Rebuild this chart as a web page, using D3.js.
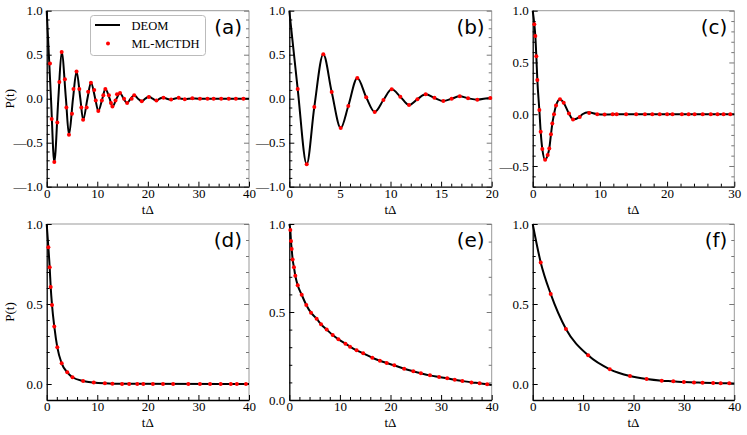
<!DOCTYPE html>
<html>
<head>
<meta charset="utf-8">
<script src="https://cdn.jsdelivr.net/npm/d3@7"></script>
<style>
  body { margin: 0; background: #fff; }
  svg { display: block; }
</style>
</head>
<body>
<script>
// ---- data ----
// (a)
const aLineT = [0, 0.85, 1.5, 2.3, 2.96, 3.8, 4.4, 5.2, 5.9, 6.65, 7.2, 8.05, 8.75, 9.6, 10.2, 11.0, 11.6, 12.45, 13.0, 13.8, 14.5, 15.2, 15.9, 16.6, 17.3, 18.05, 18.8, 19.5, 20.2, 20.95, 21.7, 22.35, 23.0, 23.75, 24.5, 25.2, 25.9, 26.6, 27.3, 28.0, 28.8, 30, 40];
const aLineP = [1.0, 0, -0.72, 0, 0.53, 0, -0.41, 0, 0.31, 0, -0.24, 0, 0.18, 0, -0.14, 0, 0.11, 0, -0.09, 0, 0.065, 0, -0.05, 0, 0.04, 0, -0.03, 0, 0.025, 0, -0.02, 0, 0.015, 0, -0.01, 0, 0.008, 0, -0.005, 0, 0.003, 0, 0];
const aDotT = [0.65, 0.99, 1.5, 2.1, 2.5, 2.96, 3.6, 3.9, 4.4, 5.0, 5.3, 5.9, 6.45, 6.85, 7.2, 7.9, 8.2, 8.75, 9.4, 9.7, 10.2, 10.9, 11.2, 11.6, 12.3, 12.7, 13.0, 13.6, 13.9, 14.5, 15.3, 15.9, 16.8, 17.3, 18.8, 20.2, 21.7, 23.1, 24.6, 26.1, 27.3, 28.8, 30.3, 31.8, 33.0, 34.5, 36.0, 37.4, 38.9];
const aDotP = [0.40, -0.23, -0.72, -0.27, 0.19, 0.53, 0.22, -0.10, -0.41, -0.17, 0.11, 0.31, 0.11, -0.10, -0.24, -0.10, 0.08, 0.18, 0.10, -0.02, -0.14, -0.02, 0.04, 0.11, 0.04, -0.05, -0.09, -0.02, 0.05, 0.065, 0, -0.05, 0, 0.04, -0.03, 0.02, -0.02, 0.01, -0.01, 0.01, -0.005, 0.005, 0, 0, 0, 0, 0, 0, 0];

// (b)
const bLineT = [0, 0.83, 1.72, 2.47, 3.36, 4.19, 5.08, 5.83, 6.72, 7.6, 8.44, 9.3, 10.12, 10.97, 11.83, 12.66, 13.48, 14.34, 15.22, 16.04, 16.84, 17.66, 18.58, 19.86, 20];
const bLineP = [1.0, 0.11, -0.745, -0.095, 0.505, 0.076, -0.333, -0.083, 0.235, 0.016, -0.151, -0.015, 0.107, 0.023, -0.072, -0.005, 0.05, 0.01, -0.026, 0, 0.027, 0.005, -0.011, 0.008, 0.008];
const bDotT = [0.83, 1.72, 2.47, 3.36, 4.19, 5.08, 5.83, 6.72, 7.6, 8.44, 9.3, 10.12, 10.97, 11.83, 12.66, 13.48, 14.34, 15.22, 16.04, 16.84, 17.66, 18.58, 19.86];
const bDotP = [0.11, -0.745, -0.095, 0.505, 0.076, -0.333, -0.083, 0.235, 0.016, -0.151, -0.015, 0.107, 0.023, -0.072, -0.005, 0.05, 0.01, -0.026, 0, 0.027, 0.005, -0.011, 0.008];

// (c)
const cLineT = [0, 0.24, 0.39, 0.54, 0.69, 0.99, 1.19, 1.43, 1.85, 2.23, 2.47, 2.72, 2.92, 3.17, 3.47, 4.06, 4.61, 5.4, 6.0, 7.0, 7.4, 8.3, 9.6, 10.7, 12, 30];
const cLineP = [1.0, 0.868, 0.755, 0.56, 0.33, 0.04, -0.17, -0.335, -0.44, -0.394, -0.33, -0.194, -0.09, 0, 0.084, 0.145, 0.11, 0.006, -0.05, -0.026, 0, 0.018, 0, -0.003, 0, 0];
const cDotT = [0.24, 0.39, 0.54, 0.69, 0.99, 1.19, 1.43, 1.85, 2.23, 2.47, 2.72, 2.92, 3.17, 3.47, 4.06, 4.61, 5.4, 6.0, 7.0, 8.4, 9.6, 10.7, 11.9, 12.5, 13.9, 15.4, 16.7, 17.8, 18.9, 20.0, 20.8, 22.2, 23.2, 24.1, 25.3, 26.5, 27.5, 28.4, 29.4];
const cDotP = [0.868, 0.755, 0.56, 0.33, 0.04, -0.17, -0.335, -0.44, -0.394, -0.33, -0.194, -0.09, 0, 0.084, 0.145, 0.11, 0.006, -0.05, -0.026, 0.013, 0, -0.003, 0, 0, 0, 0, 0, 0, 0, 0, 0, 0, 0, 0, 0, 0, 0, 0, 0];

// (d)
const dLineT = [0, 0.33, 0.59, 0.79, 1.05, 1.5, 2.1, 2.96, 4.07, 5.1, 7.2, 9.3, 11.5, 13.0, 16, 40];
const dLineP = [1.0, 0.854, 0.729, 0.606, 0.494, 0.36, 0.229, 0.129, 0.073, 0.042, 0.019, 0.009, 0.004, 0.002, 0.001, 0];
const dDotT = [0.33, 0.59, 0.79, 1.05, 1.5, 2.1, 2.96, 4.07, 5.1, 7.2, 9.3, 11.5, 13.0, 14.9, 16.3, 17.9, 19.1, 21.0, 23.0, 25.0, 28.0, 30.3, 32.3, 34.4, 36.4, 37.6, 39.4];
const dDotP = [0.854, 0.729, 0.606, 0.494, 0.36, 0.229, 0.129, 0.073, 0.042, 0.019, 0.009, 0.004, 0.002, 0, 0, 0, 0, 0, 0, 0, 0, 0, 0, 0, 0, 0, 0];

// (e)
const eLineT = [0, 0.2, 0.33, 0.47, 0.66, 0.92, 1.19, 1.66, 2.45, 3.36, 4.29, 5.4, 6.27, 7.39, 8.58, 9.7, 11.1, 12.0, 13.3, 14.6, 16.4, 17.9, 19.25, 20.75, 22.7, 24.5, 26.0, 27.8, 29.6, 31.2, 32.7, 34.2, 36.0, 37.6, 39.1, 40];
const eLineP = [1.0, 0.966, 0.903, 0.858, 0.799, 0.754, 0.706, 0.652, 0.598, 0.54, 0.496, 0.462, 0.43, 0.4, 0.369, 0.345, 0.32, 0.303, 0.282, 0.265, 0.24, 0.223, 0.21, 0.197, 0.178, 0.163, 0.152, 0.14, 0.131, 0.123, 0.115, 0.108, 0.1, 0.095, 0.089, 0.085];
const eDotT = eLineT.slice(1, -1);
const eDotP = eLineP.slice(1, -1);

// (f)
const fLineT = [0, 1.59, 3.57, 6.6, 11.0, 15.3, 19.3, 22.6, 25.6, 27.9, 30.0, 32.0, 33.7, 35.8, 37.3, 39.0, 40];
const fLineP = [1.0, 0.76, 0.563, 0.344, 0.179, 0.092, 0.05, 0.031, 0.021, 0.017, 0.012, 0.01, 0.008, 0.006, 0.005, 0.004, 0.003];
const fDotT = fLineT.slice(1, -1);
const fDotP = fLineP.slice(1, -1);

const labels = ["(a)", "(b)", "(c)", "(d)", "(e)", "(f)"];
const xDomains = [[0, 40], [0, 20], [0, 30], [0, 40], [0, 40], [0, 40]];
const yDomains = [[-1, 1], [-1, 1], [-0.7, 1], [-0.1, 1], [0, 1], [-0.1, 1]];
const xMajor = [10, 5, 10, 10, 10, 10];
const xMinor = [2, 1, 2, 2, 2, 2];

const legendNames = ["DEOM", "ML-MCTDH"];

// ---- layout ----
const W = 747, H = 435;
const cols = [[46.7, 249], [289.3, 491.7], [532.7, 734.3]];
const rows = [[10.7, 186.7], [224, 400]];

const svg = d3.select("body").append("svg")
  .attr("width", W)
  .attr("height", H);

const panels = [
  {lt: aLineT, lp: aLineP, dt: aDotT, dp: aDotP},
  {lt: bLineT, lp: bLineP, dt: bDotT, dp: bDotP},
  {lt: cLineT, lp: cLineP, dt: cDotT, dp: cDotP},
  {lt: dLineT, lp: dLineP, dt: dDotT, dp: dDotP},
  {lt: eLineT, lp: eLineP, dt: eDotT, dp: eDotP},
  {lt: fLineT, lp: fLineP, dt: fDotT, dp: fDotP}
];

// long dash as minus, like the original plot
const fmt = d => (d < 0 ? "\u2014" : "") + Math.abs(d).toFixed(1);
const serif = "'Liberation Serif', 'Times New Roman', serif";

panels.forEach((p, i) => {
  const [x0, x1] = cols[i % 3];
  const [y0, y1] = rows[Math.floor(i / 3)];
  const x = d3.scaleLinear().domain(xDomains[i]).range([x0, x1]);
  const y = d3.scaleLinear().domain(yDomains[i]).range([y1, y0]);
  const g = svg.append("g");

  const xd = xDomains[i], yd = yDomains[i];
  const xMaj = d3.range(xd[0], xd[1] + 1e-9, xMajor[i]);
  const xMin = d3.range(xd[0], xd[1] + 1e-9, xMinor[i]).filter(v => !xMaj.includes(v));
  const yMaj = d3.range(Math.ceil(yd[0] / 0.5) * 0.5, yd[1] + 1e-9, 0.5).map(v => +v.toFixed(2));
  const yMin = d3.range(Math.ceil(yd[0] * 10 - 1e-9) / 10, yd[1] + 1e-9, 0.1)
    .map(v => +v.toFixed(2)).filter(v => !yMaj.includes(v));

  // frame top / right (grey)
  g.append("line").attr("x1", x0).attr("x2", x1).attr("y1", y0).attr("y2", y0)
    .attr("stroke", "#999").attr("stroke-width", 1);
  g.append("line").attr("x1", x1).attr("x2", x1).attr("y1", y0).attr("y2", y1)
    .attr("stroke", "#999").attr("stroke-width", 1);

  // right ticks
  g.append("g").attr("transform", `translate(${x1},0)`)
    .call(d3.axisRight(y).tickValues(yMaj).tickSize(-5).tickFormat(""))
    .call(a => a.select(".domain").remove())
    .call(a => a.selectAll("line").attr("stroke", "#777"));
  g.append("g").attr("transform", `translate(${x1},0)`)
    .call(d3.axisRight(y).tickValues(yMin).tickSize(-3).tickFormat(""))
    .call(a => a.select(".domain").remove())
    .call(a => a.selectAll("line").attr("stroke", "#777"));

  // left axis
  const ya = g.append("g").attr("transform", `translate(${x0},0)`)
    .call(d3.axisLeft(y).tickValues(yMaj).tickSize(-5).tickSizeOuter(0).tickPadding(4).tickFormat(fmt));
  g.append("g").attr("transform", `translate(${x0},0)`)
    .call(d3.axisLeft(y).tickValues(yMin).tickSize(-3).tickFormat(""))
    .call(a => a.select(".domain").remove());

  // bottom axis
  const xa = g.append("g").attr("transform", `translate(0,${y1})`)
    .call(d3.axisBottom(x).tickValues(xMaj).tickSize(-5).tickSizeOuter(0).tickPadding(2).tickFormat(d3.format("d")));
  g.append("g").attr("transform", `translate(0,${y1})`)
    .call(d3.axisBottom(x).tickValues(xMin).tickSize(-3).tickFormat(""))
    .call(a => a.select(".domain").remove());

  [ya, xa].forEach(a => {
    a.attr("font-family", null).attr("font-size", null);
    a.select(".domain").attr("stroke", "#000").attr("stroke-width", 1.3);
    a.selectAll("text").style("font-family", serif).style("font-size", "13px").attr("fill", "#000");
  });

  svg.append("text")
    .attr("x", (x0 + x1) / 2).attr("y", y1 + 27)
    .attr("text-anchor", "middle")
    .style("font-family", serif).style("font-size", "13px")
    .text("t\u0394");

  if (i % 3 === 0) {
    svg.append("text")
      .attr("transform", `translate(14,${(y0 + y1) / 2}) rotate(-90)`)
      .attr("text-anchor", "middle")
      .style("font-family", serif).style("font-size", "13px")
      .text("P(t)");
  }

  // DEOM line
  const lineData = p.lt.map((t, k) => [t, p.lp[k]]);
  g.append("path")
    .datum(lineData)
    .attr("fill", "none")
    .attr("stroke", "#000")
    .attr("stroke-width", 2)
    .attr("d", d3.line().x(d => x(d[0])).y(d => y(d[1])).curve(d3.curveMonotoneX));

  // ML-MCTDH dots
  const dotData = p.dt.map((t, k) => [t, p.dp[k]]);
  g.selectAll("circle.dot")
    .data(dotData)
    .join("circle")
    .attr("class", "dot")
    .attr("cx", d => x(d[0]))
    .attr("cy", d => y(d[1]))
    .attr("r", 2)
    .attr("fill", "#ff0000");

  // panel label
  svg.append("text")
    .attr("x", x1 - 7).attr("y", y0 + 23)
    .attr("text-anchor", "end")
    .style("font-family", "'DejaVu Sans', sans-serif")
    .style("font-size", "20px")
    .text(labels[i]);
});

// legend in (a)
const lg = svg.append("g");
lg.append("rect")
  .attr("x", 90.5).attr("y", 15.5).attr("width", 115).attr("height", 40)
  .attr("rx", 3)
  .attr("fill", "#fff").attr("stroke", "#bbb");
lg.append("line")
  .attr("x1", 95).attr("x2", 120).attr("y1", 25).attr("y2", 25)
  .attr("stroke", "#000").attr("stroke-width", 2);
lg.append("circle").attr("cx", 108).attr("cy", 43.5).attr("r", 2).attr("fill", "#ff0000");
lg.selectAll("text.lg")
  .data(legendNames)
  .join("text")
  .attr("class", "lg")
  .attr("x", 131.5)
  .attr("y", (d, k) => 29.5 + k * 18.5)
  .style("font-family", serif).style("font-size", "12.5px")
  .text(d => d);
</script>
</body>
</html>
